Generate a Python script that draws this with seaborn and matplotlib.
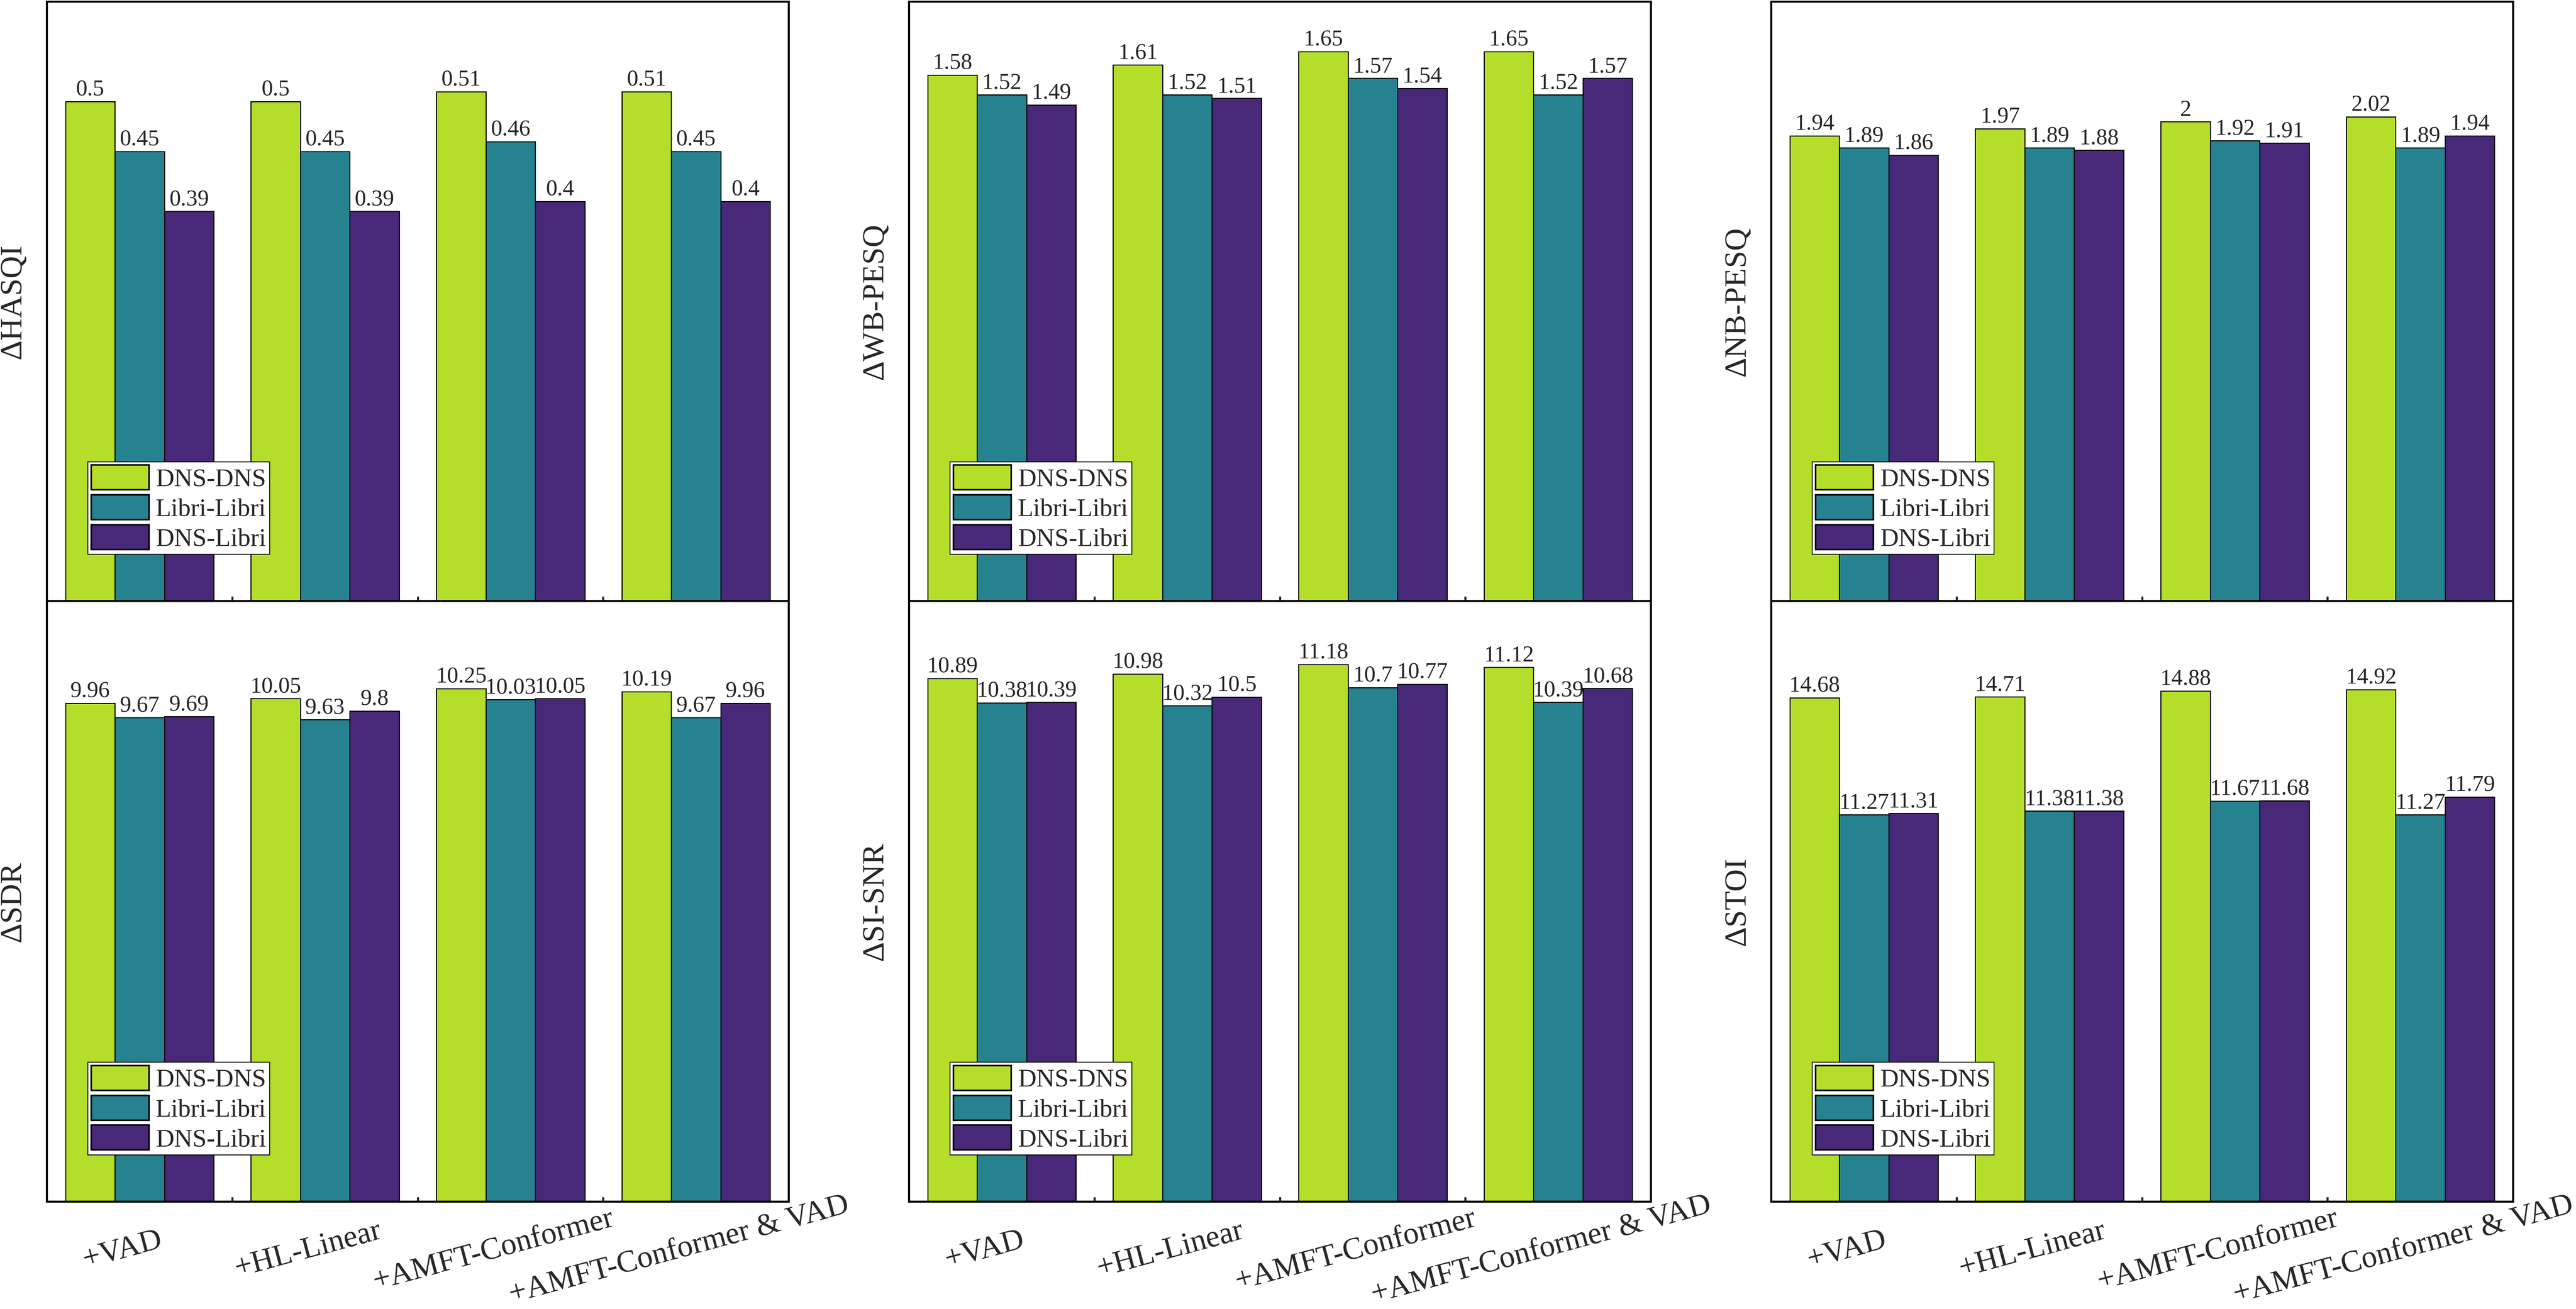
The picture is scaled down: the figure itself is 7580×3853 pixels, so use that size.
import matplotlib
matplotlib.use("Agg")
import matplotlib.pyplot as plt
import matplotlib.transforms as mtransforms
import seaborn as sns
import numpy as np
import pandas as pd

# ---- data ----
methods = ["+VAD", "+HL-Linear", "+AMFT-Conformer", "+AMFT-Conformer & VAD"]
settings = ["DNS-DNS", "Libri-Libri", "DNS-Libri"]

hasqi = [[0.5, 0.5, 0.51, 0.51], [0.45, 0.45, 0.46, 0.45], [0.39, 0.39, 0.4, 0.4]]
wb_pesq = [[1.58, 1.61, 1.65, 1.65], [1.52, 1.52, 1.57, 1.52], [1.49, 1.51, 1.54, 1.57]]
nb_pesq = [[1.94, 1.97, 2, 2.02], [1.89, 1.89, 1.92, 1.89], [1.86, 1.88, 1.91, 1.94]]
sdr = [[9.96, 10.05, 10.25, 10.19], [9.67, 9.63, 10.03, 9.67], [9.69, 9.8, 10.05, 9.96]]
si_snr = [[10.89, 10.98, 11.18, 11.12], [10.38, 10.32, 10.7, 10.39], [10.39, 10.5, 10.77, 10.68]]
stoi = [[14.68, 14.71, 14.88, 14.92], [11.27, 11.38, 11.67, 11.27], [11.31, 11.38, 11.68, 11.79]]

metric_names = ["\u0394HASQI", "\u0394WB-PESQ", "\u0394NB-PESQ", "\u0394SDR", "\u0394SI-SNR", "\u0394STOI"]
metric_values = [hasqi, wb_pesq, nb_pesq, sdr, si_snr, stoi]
y_tops = [0.6, 1.8, 2.5, 12, 12.5, 17.5]

colors = ["#b5de2b", "#26828e", "#482878"]

sns.set_theme(style="white", rc={"axes.edgecolor": "black", "axes.linewidth": 0.72})
plt.rcParams["font.family"] = ["Liberation Serif", "DejaVu Serif"]

W, H, DPI = 7580, 3854, 600
fig = plt.figure(figsize=(W / DPI, H / DPI), dpi=DPI)

lefts = [138, 2675, 5212]
col_w = 2183
rows = [(6, 1770), (1770, 3538)]  # (top, bottom) in pixels


def make_frame(values):
    recs = []
    for s, vals in zip(settings, values):
        for m, v in zip(methods, vals):
            recs.append({"method": m, "setting": s, "value": v})
    return pd.DataFrame(recs)


for i, (name, values, ytop) in enumerate(zip(metric_names, metric_values, y_tops)):
    r, c = divmod(i, 3)
    top, bot = rows[r]
    ax = fig.add_axes([lefts[c] / W, 1 - bot / H, col_w / W, (bot - top) / H])
    df = make_frame(values)
    sns.barplot(data=df, x="method", y="value", hue="setting", order=methods,
                hue_order=settings, palette=colors, edgecolor="black",
                linewidth=0.36, errorbar=None, saturation=1, ax=ax)
    for cont in ax.containers:
        ax.bar_label(cont, fmt="%g", padding=0.5, fontsize=8)

    ax.set_xlim(-0.5, 3.5)
    ax.set_ylim(0, ytop)
    ax.set_xlabel("")
    ax.set_ylabel(name, fontsize=11, labelpad=7)
    ax.set_yticks([])
    ax.set_xticks([0.5, 1.5, 2.5], minor=True)
    ax.tick_params(axis="x", which="major", direction="in", length=3.7, width=0.72,
                   bottom=True, top=False, pad=17)
    ax.tick_params(axis="x", which="minor", direction="in", length=1.6, width=0.72,
                   bottom=True, top=False)
    for sp in ax.spines.values():
        sp.set_linewidth(0.72)
        sp.set_color("black")

    leg = ax.legend(loc="lower left", bbox_to_anchor=(0.055, 0.078), borderaxespad=0,
                    fontsize=9, handlelength=2.27, handleheight=1.12, labelspacing=0.13,
                    handletextpad=0.27, borderpad=0.13, fancybox=False,
                    edgecolor="black", framealpha=1, title=None)
    leg.get_frame().set_linewidth(0.3)
    for p in leg.get_patches():
        p.set_linewidth(0.55)

    if r == 0:
        ax.tick_params(axis="x", labelbottom=False)
    else:
        ax.set_xticks(range(len(methods)), methods, rotation=15, ha="center",
                      va="center", rotation_mode="anchor", fontsize=11)
        shift = mtransforms.ScaledTranslation(-6 / 72, 0, fig.dpi_scale_trans)
        for lab in ax.get_xticklabels():
            lab.set_transform(lab.get_transform() + shift)

fig.savefig("out.png", dpi=DPI, facecolor="white")
